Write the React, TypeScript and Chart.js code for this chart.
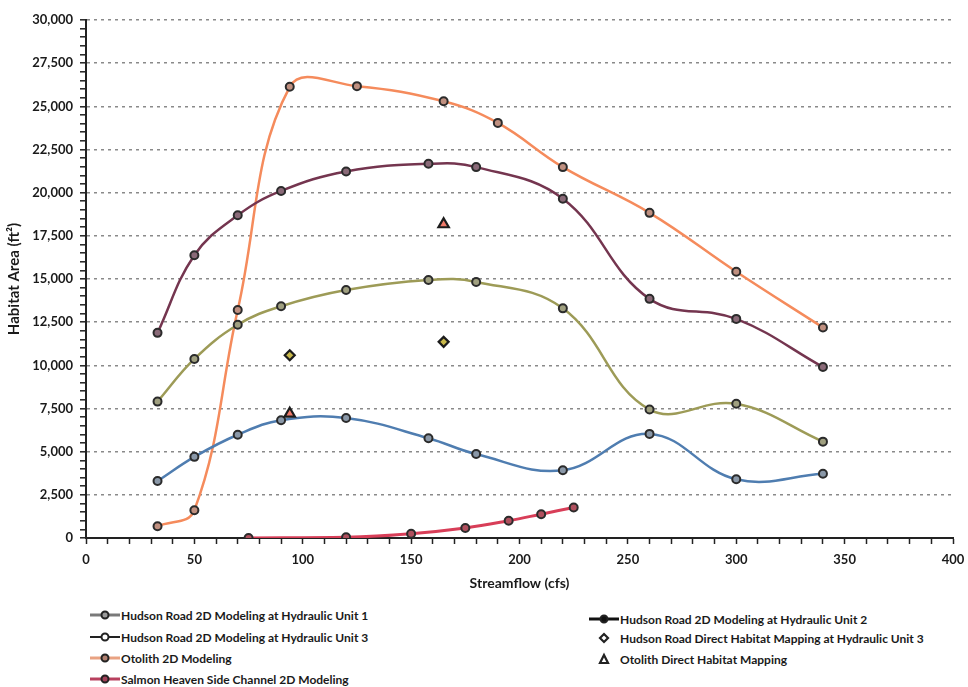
import React, { useEffect, useRef } from "react";
import { Chart, registerables } from "chart.js";

Chart.register(...registerables);

// ---- data ----
const unit1X = [33, 50, 70, 90, 120, 158, 180, 220, 260, 300, 340];
const unit1Y = [3300, 4700, 5980, 6820, 6950, 5780, 4860, 3920, 6030, 3400, 3720];

const unit2X = [33, 50, 70, 90, 120, 158, 180, 220, 260, 300, 340];
const unit2Y = [11880, 16380, 18690, 20100, 21230, 21670, 21480, 19650, 13850, 12690, 9900];

const unit3X = [33, 50, 70, 90, 120, 158, 180, 220, 260, 300, 340];
const unit3Y = [7900, 10370, 12350, 13420, 14360, 14940, 14830, 13300, 7440, 7770, 5580];

const hrDirectX = [94, 165];
const hrDirectY = [10580, 11360];

const otolithX = [33, 50, 70, 94, 125, 165, 190, 220, 260, 300, 340];
const otolithY = [680, 1610, 13200, 26130, 26170, 25290, 24040, 21480, 18830, 15420, 12190];

const otolithDirectX = [94, 165];
const otolithDirectY = [7200, 18170];

const salmonX = [75, 120, 150, 175, 195, 210, 225];
const salmonY = [0, 40, 250, 580, 1000, 1380, 1770];

const xTickLabels = [0, 50, 100, 150, 200, 250, 300, 350, 400];

const FONT = "Lato, 'Open Sans', 'Liberation Sans', sans-serif";

function pts(xs: number[], ys: number[]) {
  return xs.map((x, i) => ({ x, y: ys[i] }));
}

function lineSeries(label: string, xs: number[], ys: number[], color: string, fill: string, width = 2.5) {
  return {
    label,
    data: pts(xs, ys),
    borderColor: color,
    backgroundColor: fill,
    borderWidth: width,
    tension: 0.4,
    pointStyle: "circle",
    pointRadius: 4,
    pointBorderWidth: 2,
    pointBorderColor: "#2b2b2b",
    pointBackgroundColor: fill,
    showLine: true,
  };
}

const legendLeft = [
  { label: "Hudson Road 2D Modeling at Hydraulic Unit 1", line: "#7a7a7a", marker: "circle", fill: "#9a9a9a", lw: 3 },
  { label: "Hudson Road 2D Modeling at Hydraulic Unit 3", line: "#222", marker: "circle", fill: "#fff", lw: 2 },
  { label: "Otolith 2D Modeling", line: "#e9a282", marker: "circle", fill: "#b08070", lw: 3 },
  { label: "Salmon Heaven Side Channel 2D Modeling", line: "#b8405e", marker: "circle", fill: "#a04058", lw: 3 },
];
const legendRight = [
  { label: "Hudson Road 2D Modeling at Hydraulic Unit 2", line: "#111", marker: "circle", fill: "#111", lw: 3 },
  { label: "Hudson Road Direct Habitat Mapping at Hydraulic Unit 3", line: "", marker: "diamond", fill: "#fff", lw: 0 },
  { label: "Otolith Direct Habitat Mapping", line: "", marker: "triangle", fill: "#fff", lw: 0 },
];

function LegendIcon({ item }: { item: any }) {
  return (
    <svg width={32} height={14} style={{ display: "block" }}>
      {item.line ? <line x1={1} y1={7} x2={31} y2={7} stroke={item.line} strokeWidth={item.lw} /> : null}
      {item.marker === "circle" ? (
        <circle cx={16} cy={7} r={3.5} fill={item.fill} stroke="#222" strokeWidth={2} />
      ) : null}
      {item.marker === "diamond" ? (
        <polygon points="12,7 16,3 20,7 16,11" fill={item.fill} stroke="#222" strokeWidth={2.2} />
      ) : null}
      {item.marker === "triangle" ? (
        <polygon points="16,3 20,11 12,11" fill={item.fill} stroke="#222" strokeWidth={2.2} />
      ) : null}
    </svg>
  );
}

export default function App() {
  const ref = useRef<HTMLCanvasElement | null>(null);

  useEffect(() => {
    if (!ref.current) return;
    const datasets: any[] = [
      {
        label: "Hudson Road Direct Habitat Mapping at Hydraulic Unit 3",
        data: pts(hrDirectX, hrDirectY),
        showLine: false,
        pointStyle: "rectRot",
        pointRadius: 5,
        pointBorderWidth: 2.2,
        pointBorderColor: "#1c1c1c",
        pointBackgroundColor: "#c9b94a",
        borderColor: "#1c1c1c",
      },
      {
        label: "Otolith Direct Habitat Mapping",
        data: pts(otolithDirectX, otolithDirectY),
        showLine: false,
        pointStyle: "triangle",
        pointRadius: 6,
        pointBorderWidth: 2.2,
        pointBorderColor: "#1c1c1c",
        pointBackgroundColor: "#f07a6a",
        borderColor: "#1c1c1c",
      },
      lineSeries("Hudson Road 2D Modeling at Hydraulic Unit 1", unit1X, unit1Y, "#4f7db0", "#8a98a8"),
      lineSeries("Salmon Heaven Side Channel 2D Modeling", salmonX, salmonY, "#d83e58", "#b0505e", 3),
      lineSeries("Hudson Road 2D Modeling at Hydraulic Unit 3", unit3X, unit3Y, "#9d9b57", "#a0a080"),
      lineSeries("Hudson Road 2D Modeling at Hydraulic Unit 2", unit2X, unit2Y, "#74354f", "#8a6a78"),
      lineSeries("Otolith 2D Modeling", otolithX, otolithY, "#f58b5c", "#c09080"),
    ];

    const chart = new Chart(ref.current, {
      type: "line",
      data: { datasets },
      options: {
        animation: false,
        responsive: false,
        maintainAspectRatio: false,
        layout: { padding: { top: 20, left: 0, right: 0, bottom: 0 } },
        plugins: { legend: { display: false }, tooltip: { enabled: false } },
        scales: {
          x: {
            type: "linear",
            min: 0,
            max: 400,
            afterFit: (s: any) => {
              s.height = 60;
              s.paddingRight = 15;
              s.paddingLeft = 0;
            },
            ticks: {
              stepSize: 10,
              autoSkip: false,
              maxRotation: 0,
              padding: 8,
              color: "#1a1a1a",
              font: { family: FONT, size: 13, weight: "bold" },
              callback: (v: any) => (xTickLabels.includes(Number(v)) ? String(v) : ""),
            },
            grid: {
              drawOnChartArea: false,
              tickColor: "#222",
              tickLength: 6,
              tickWidth: 1.5,
            },
            border: { color: "#222", width: 2 },
            title: {
              display: true,
              text: "Streamflow (cfs)",
              color: "#1a1a1a",
              font: { family: FONT, size: 14, weight: "bold" },
              padding: { top: 0, bottom: 6 },
            },
          },
          y: {
            type: "linear",
            min: 0,
            max: 30000,
            afterFit: (s: any) => {
              s.width = 86;
            },
            ticks: {
              stepSize: 500,
              autoSkip: false,
              padding: 7,
              color: "#1a1a1a",
              font: { family: FONT, size: 13, weight: "bold" },
              callback: (v: any) => (Number(v) % 2500 === 0 ? Number(v).toLocaleString("en-US") : ""),
            },
            grid: {
              color: (ctx: any) =>
                ctx.tick && ctx.tick.value % 2500 === 0 && ctx.tick.value !== 0 ? "#8a8a8a" : "rgba(0,0,0,0)",
              lineWidth: 1.6,
              tickColor: "#222",
              tickLength: 6,
              tickWidth: 1.5,
              tickBorderDash: [],
            },
            border: { color: "#222", width: 2, dash: [3, 4] },
            title: {
              display: true,
              text: "Habitat Area (ft²)",
              color: "#1a1a1a",
              font: { family: FONT, size: 15, weight: "bold" },
              padding: { top: 5, bottom: 0 },
            },
          },
        },
      },
    });
    return () => chart.destroy();
  }, []);

  const rowTops = [615, 637, 658, 679];
  const rowStyle = {
    position: "absolute" as const,
    display: "flex",
    alignItems: "center",
    height: 16,
    fontFamily: FONT,
    fontWeight: 700,
    fontSize: 12,
    color: "#1a1a1a",
    whiteSpace: "nowrap" as const,
  };
  return (
    <div style={{ position: "absolute", left: 0, top: 0, width: 968, height: 687, overflow: "hidden" }}>
      <canvas ref={ref} width={968} height={598} style={{ display: "block", width: 968, height: 598 }} />
      {legendLeft.map((it, i) => (
        <div key={"l" + i} style={{ ...rowStyle, left: 89, top: rowTops[i] - 8 }}>
          <LegendIcon item={it} />
          <span>{it.label}</span>
        </div>
      ))}
      {legendRight.map((it, i) => (
        <div key={"r" + i} style={{ ...rowStyle, left: 588, top: rowTops[i] + (i === 0 ? 4 : 1) - 8 }}>
          <LegendIcon item={it} />
          <span>{it.label}</span>
        </div>
      ))}
    </div>
  );
}
